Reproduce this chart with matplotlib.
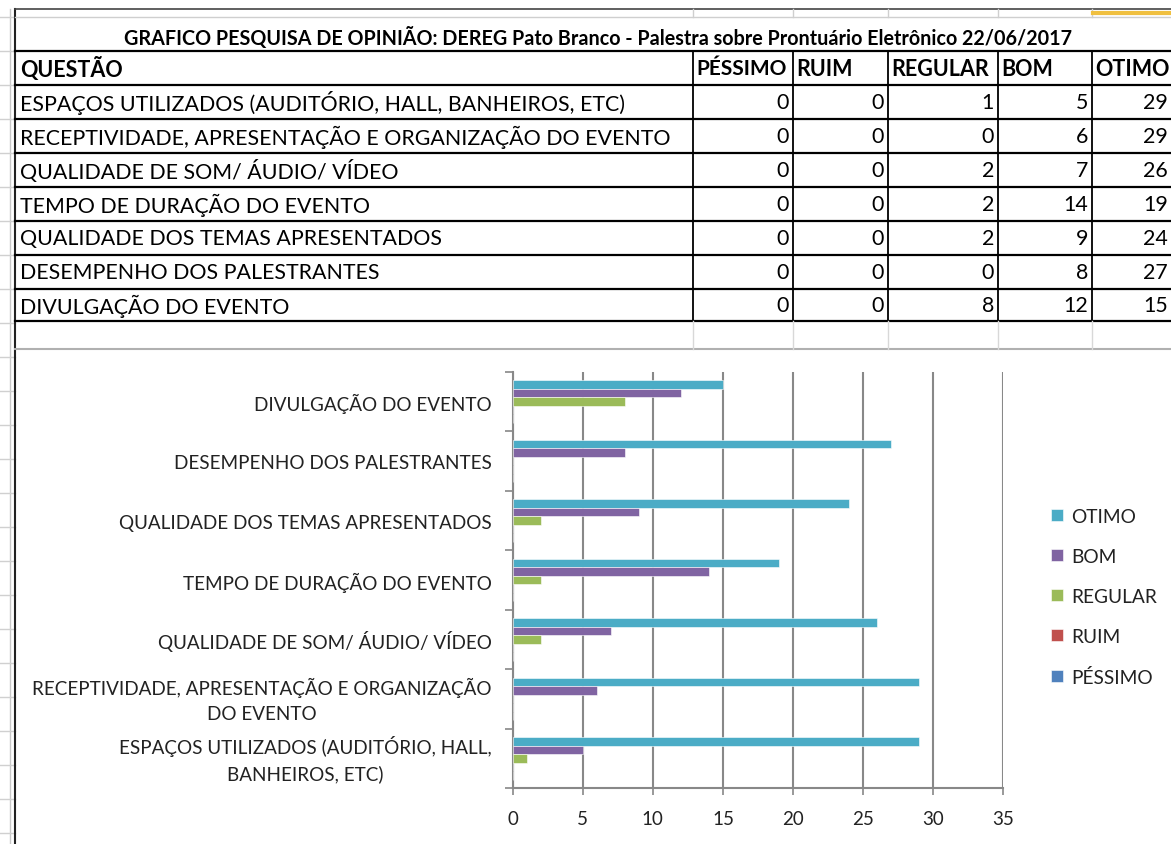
import matplotlib
matplotlib.use("Agg")
import matplotlib.pyplot as plt
import matplotlib.transforms as mtransforms
import numpy as np

# ---------------- data ----------------
title = "GRAFICO PESQUISA DE OPINIÃO: DEREG Pato Branco - Palestra sobre Prontuário Eletrônico 22/06/2017"
col_header = "QUESTÃO"
series_names = ["PÉSSIMO", "RUIM", "REGULAR", "BOM", "OTIMO"]
questions = [
    "ESPAÇOS UTILIZADOS (AUDITÓRIO, HALL, BANHEIROS, ETC)",
    "RECEPTIVIDADE, APRESENTAÇÃO E ORGANIZAÇÃO DO EVENTO",
    "QUALIDADE DE SOM/ ÁUDIO/ VÍDEO",
    "TEMPO DE DURAÇÃO DO EVENTO",
    "QUALIDADE DOS TEMAS APRESENTADOS",
    "DESEMPENHO DOS PALESTRANTES",
    "DIVULGAÇÃO DO EVENTO",
]
chart_labels = [
    "ESPAÇOS UTILIZADOS (AUDITÓRIO, HALL,\nBANHEIROS, ETC)",
    "RECEPTIVIDADE, APRESENTAÇÃO E ORGANIZAÇÃO\nDO EVENTO",
    "QUALIDADE DE SOM/ ÁUDIO/ VÍDEO",
    "TEMPO DE DURAÇÃO DO EVENTO",
    "QUALIDADE DOS TEMAS APRESENTADOS",
    "DESEMPENHO DOS PALESTRANTES",
    "DIVULGAÇÃO DO EVENTO",
]
pessimo = [0, 0, 0, 0, 0, 0, 0]
ruim = [0, 0, 0, 0, 0, 0, 0]
regular = [1, 0, 2, 2, 2, 0, 8]
bom = [5, 6, 7, 14, 9, 8, 12]
otimo = [29, 29, 26, 19, 24, 27, 15]
x_ticks = [0, 5, 10, 15, 20, 25, 30, 35]

# ---------------- styles ----------------
colors = {"PÉSSIMO": "#4F81BD", "RUIM": "#C0504D", "REGULAR": "#9BBB59",
          "BOM": "#8064A2", "OTIMO": "#4BACC6"}
FONT = ["Lato", "DejaVu Sans"]
W, H = 1171, 845
fig = plt.figure(figsize=(W / 100, H / 100), dpi=100)
fig.patch.set_facecolor("white")

# ---------- spreadsheet / table layer (pixel coords) ----------
bg = fig.add_axes([0, 0, 1, 1])
bg.set_xlim(0, W)
bg.set_ylim(H, 0)
bg.axis("off")

col_edges = [15, 693, 793, 888, 998, 1092, 1200]
row_edges = [52, 86, 120, 154, 188, 222, 256, 290, 322]
empty_bottom = 350

# left row-header strip
bg.plot([10, 10], [10, H], color="#c8c8c8", lw=1)
for yy in list(range(18, H, 34)):
    bg.plot([0, 15], [yy, yy], color="#d0d0d0", lw=1)
bg.plot([15, 15], [10, H], color="#222222", lw=1.5)
# top border
bg.plot([15, W], [10, 10], color="#444444", lw=1.2)
for x in col_edges[1:-1]:
    bg.plot([x, x], [10, 18], color="#cfcfcf", lw=1)
bg.plot([15, W], [18, 18], color="#cfcfcf", lw=1)
bg.plot([1093, W], [14, 14], color="#f0c040", lw=3)

# title row
bg.text((127 + 1068) / 2, 38, title, ha="center", va="center", fontsize=14.2,
        fontweight="bold", family=FONT)

# horizontal lines
for yy in row_edges:
    bg.plot([15, W], [yy, yy], color="black", lw=1.6)
bg.plot([15, W], [empty_bottom, empty_bottom], color="#b0b0b0", lw=1.5)
# vertical lines
for x in col_edges[1:-1]:
    bg.plot([x, x], [row_edges[0], row_edges[-1]], color="black", lw=1.3)
    bg.plot([x, x], [row_edges[-1], empty_bottom], color="#d8d8d8", lw=1)

# header row
hy = (row_edges[0] + row_edges[1]) / 2
bg.text(20, hy, col_header, ha="left", va="center", fontsize=15.5,
        fontweight="bold", family=FONT)
for i, name in enumerate(series_names):
    bg.text(col_edges[i + 1] + 3, hy, name, ha="left", va="center",
            fontsize=15.5 if name != "PÉSSIMO" else 15, fontweight="bold", family=FONT)

# data rows
table_vals = [pessimo, ruim, regular, bom, otimo]
for r, q in enumerate(questions):
    cy = (row_edges[r + 1] + row_edges[r + 2]) / 2
    bg.text(20, cy, q, ha="left", va="center", fontsize=15.4, family=FONT)
    for c, vals in enumerate(table_vals):
        xr = col_edges[c + 2] - 4 if c < 4 else W - 3
        bg.text(xr, cy, str(vals[r]), ha="right",
                va="center", fontsize=15.4, family=FONT)

# ---------------- chart ----------------
left, right = 512.7, 1003.3
top, bottom = 373, 789
ax = fig.add_axes([left / W, 1 - bottom / H, (right - left) / W, (bottom - top) / H])
ax.set_facecolor("none")

n = len(questions)
y = np.arange(n)
bh = 1 / 7
order_top_down = ["OTIMO", "BOM", "REGULAR", "RUIM", "PÉSSIMO"]
data = {"PÉSSIMO": pessimo, "RUIM": ruim, "REGULAR": regular, "BOM": bom, "OTIMO": otimo}
for k, name in enumerate(order_top_down):
    off = (2 - k) * bh
    ax.barh(y + off, data[name], height=bh, color=colors[name],
            edgecolor="white", linewidth=0.4, label=name, zorder=3)

ax.set_xlim(0, 35)
ax.set_ylim(-0.5, n - 0.5)
ax.set_xticks(x_ticks)
ax.set_xticklabels([str(t) for t in x_ticks], fontsize=13.5, family=FONT, color="#222222")
ax.tick_params(axis="x", direction="out", length=5, width=1.2, color="#888888", pad=11)
ax.set_yticks(y)
ax.set_yticklabels(chart_labels, fontsize=13.6, family=FONT, color="#222222",
                   multialignment="center", linespacing=1.55)
ax.tick_params(axis="y", length=0, pad=15)
ax.set_yticks(np.arange(-0.5, n, 1), minor=True)
ax.tick_params(axis="y", which="minor", direction="out", length=6, width=1.2, color="#888888")
ax.grid(axis="x", color="#888888", lw=1.5, zorder=0)
for s in ["top", "right"]:
    ax.spines[s].set_visible(False)
for s in ["left", "bottom"]:
    ax.spines[s].set_color("#888888")
    ax.spines[s].set_linewidth(1.5)

# nudge two-line labels up slightly
shift = mtransforms.ScaledTranslation(0, 5 / 100, fig.dpi_scale_trans)
for lab in ax.get_yticklabels():
    if "\n" in lab.get_text():
        lab.set_transform(lab.get_transform() + shift)

# legend
handles, labels = ax.get_legend_handles_labels()
leg = fig.legend(handles, labels, loc="center left",
                 bbox_to_anchor=(1034 / W, 1 - 598 / H), frameon=False,
                 prop={"family": FONT, "size": 13.8}, handlelength=0.62,
                 handleheight=0.62, labelspacing=1.2, handletextpad=0.4)
for t in leg.get_texts():
    t.set_color("#222222")

fig.savefig("out.png", dpi=100, facecolor="white")
